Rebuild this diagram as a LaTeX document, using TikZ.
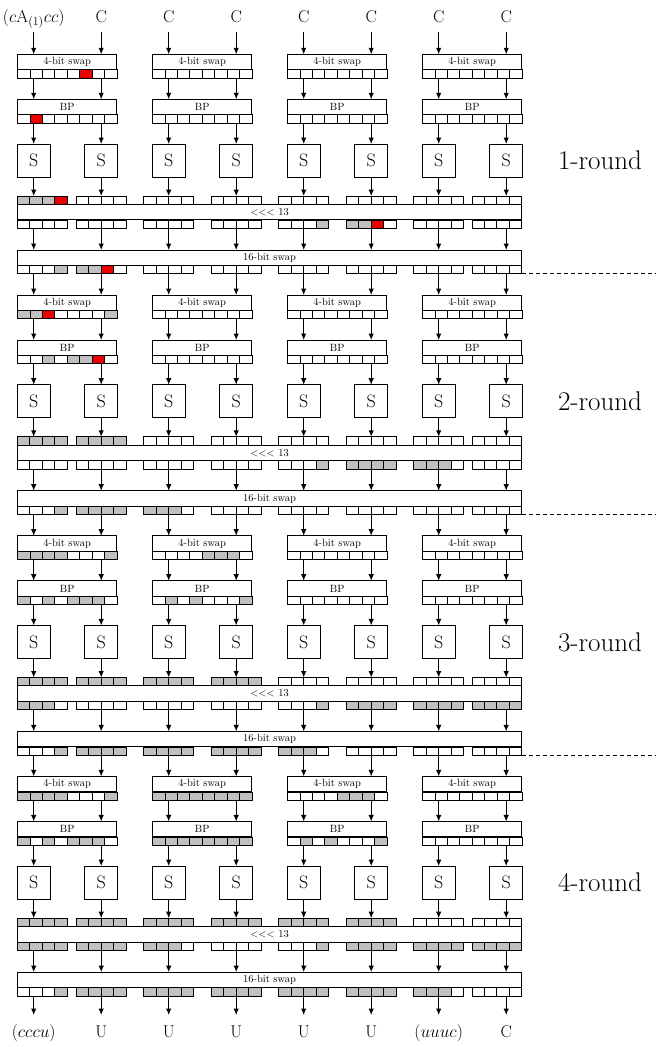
\documentclass[tikz,border=0pt]{standalone}
\usetikzlibrary{arrows.meta,calc}
\definecolor{cw}{RGB}{255,255,255}
\definecolor{cg}{RGB}{192,192,192}
\definecolor{cr}{RGB}{237,0,0}
\newcommand{\groupcells}[2]{%
  \foreach \gd [count=\g from 0] in {#2} {
    \foreach \f [count=\i from 0] in \gd
      \draw[cell,fill=c\f] ($(#1-\g.north west)+(\i*12.425,0)$) rectangle ++(12.425,8.3);
  }}
\newcommand{\colcells}[2]{%
  \foreach \cd [count=\c from 0] in {#2} {
    \pgfmathsetmacro{\dx}{max(0,min(454.7,67.5*\c-8.45))}
    \foreach \f [count=\i from 0] in \cd
      \draw[cell,fill=c\f] ($(#1.north west)+(\dx+\i*12.425,0)$) rectangle ++(12.425,8.3);
  }}
\begin{document}
\begin{tikzpicture}[x=1pt,y=-1pt,
  box/.style={draw,line width=1pt,minimum height=15.5pt,inner sep=0pt,outer sep=0pt,font=\fontsize{10.5}{12}\selectfont},
  sbox/.style={draw,line width=1pt,minimum size=33pt,inner sep=0pt,outer sep=0pt,font=\fontsize{18}{21}\selectfont},
  strip/.style={minimum height=8.3pt,inner sep=0pt,outer sep=0pt},
  cell/.style={draw,line width=0.75pt},
  arr/.style={line width=1pt,-{Latex[length=6.5pt,width=5.5pt]}},
  lbl/.style={inner xsep=1pt,inner ysep=6pt,text height=12pt,text depth=4pt,font=\fontsize{17}{20}\selectfont},
  olbl/.style={lbl,anchor=north,inner ysep=10pt},
  rnd/.style={font=\fontsize{27}{32}\selectfont}]
\useasboundingbox (0,0) rectangle (656,1047);
\coordinate (rim) at (656,0);
\foreach \r in {0,...,3} {
  \pgfmathsetmacro{\yo}{54.3+240.7*\r}
  \foreach \g in {0,...,3} {
    \node[box,minimum width=99.4pt] (sw-\r-\g) at (67.2+135*\g,\yo+7.75) {4-bit swap};
    \node[strip,minimum width=99.4pt,anchor=north] (swc-\r-\g) at (sw-\r-\g.south) {};
    \node[box,minimum width=99.4pt] (bp-\r-\g) at (67.2+135*\g,\yo+52.75) {BP};
    \node[strip,minimum width=99.4pt,anchor=north] (bpc-\r-\g) at (bp-\r-\g.south) {};
  }
  \foreach \c in {0,...,7}
    \node[sbox] (s-\r-\c) at (33.7+67.5*\c,\yo+106.2) {S};
  \node[box,minimum width=504.4pt] (rot-\r) at (269.5,\yo+157.85) {\textless\kern0pt\textless\kern0pt\textless\ 13};
  \node[strip,minimum width=504.4pt,anchor=south] (rin-\r) at (rot-\r.north) {};
  \node[strip,minimum width=504.4pt,anchor=north] (rout-\r) at (rot-\r.south) {};
  \node[box,minimum width=504.4pt] (hs-\r) at (269.5,\yo+203.45) {16-bit swap};
  \node[strip,minimum width=504.4pt,anchor=north] (hsc-\r) at (hs-\r.south) {};
  \pgfmathtruncatemacro{\rn}{\r+1}
  \node[rnd] (lb-\r) at (600,\yo+106.2) {\rn-round};
}
\foreach \r in {0,...,3}
  \foreach \c/\g in {0/0,1/0,2/1,3/1,4/2,5/2,6/3,7/3} {
    \draw[arr] (swc-\r-\g.south -| s-\r-\c) -- (bp-\r-\g.north -| s-\r-\c);
    \draw[arr] (bpc-\r-\g.south -| s-\r-\c) -- (s-\r-\c);
    \draw[arr] (s-\r-\c) -- (rin-\r.north -| s-\r-\c);
    \draw[arr] (rout-\r.south -| s-\r-\c) -- (hs-\r.north -| s-\r-\c);
  }
\foreach \r/\n in {0/1,1/2,2/3}
  \foreach \c/\g in {0/0,1/0,2/1,3/1,4/2,5/2,6/3,7/3}
    \draw[arr] (hsc-\r.south -| s-\r-\c) -- (sw-\n-\g.north -| s-\r-\c);
\foreach \r in {0,1,2}
  \draw[line width=1pt,dash pattern=on 4pt off 3pt] (hsc-\r.south east) -- (hsc-\r.south east -| rim);
\node[lbl] (in-0) at (33.7,18) {$(c\mathrm{A}_{(1)}cc)$};
\foreach \c in {1,...,7}
  \node[lbl] (in-\c) at (33.7+67.5*\c,18) {C};
\foreach \c/\g in {0/0,1/0,2/1,3/1,4/2,5/2,6/3,7/3}
  \draw[arr] (in-\c) -- (sw-0-\g.north -| in-\c);
\node[olbl] (out-0) at (33.7,1015) {$(cccu)$};
\node[olbl] (out-1) at (101.2,1015) {U};
\node[olbl] (out-2) at (168.7,1015) {U};
\node[olbl] (out-3) at (236.2,1015) {U};
\node[olbl] (out-4) at (303.7,1015) {U};
\node[olbl] (out-5) at (371.2,1015) {U};
\node[olbl] (out-6) at (438.7,1015) {$(uuuc)$};
\node[olbl] (out-7) at (506.2,1015) {C};
\foreach \c in {0,...,7}
  \draw[arr] (hsc-3.south -| out-\c) -- (out-\c);
% round 1
\groupcells{swc-0}{{w,w,w,w,w,r,w,w},{w,w,w,w,w,w,w,w},{w,w,w,w,w,w,w,w},{w,w,w,w,w,w,w,w}}
\groupcells{bpc-0}{{w,r,w,w,w,w,w,w},{w,w,w,w,w,w,w,w},{w,w,w,w,w,w,w,w},{w,w,w,w,w,w,w,w}}
\colcells{rin-0}{{g,g,g,r},{w,w,w,w},{w,w,w,w},{w,w,w,w},{w,w,w,w},{w,w,w,w},{w,w,w,w},{w,w,w,w}}
\colcells{rout-0}{{w,w,w,w},{w,w,w,w},{w,w,w,w},{w,w,w,w},{w,w,w,g},{g,g,r,w},{w,w,w,w},{w,w,w,w}}
\colcells{hsc-0}{{w,w,w,g},{g,g,r,w},{w,w,w,w},{w,w,w,w},{w,w,w,w},{w,w,w,w},{w,w,w,w},{w,w,w,w}}
% round 2
\groupcells{swc-1}{{g,g,r,w,w,w,w,g},{w,w,w,w,w,w,w,w},{w,w,w,w,w,w,w,w},{w,w,w,w,w,w,w,w}}
\groupcells{bpc-1}{{w,w,g,w,g,g,r,w},{w,w,w,w,w,w,w,w},{w,w,w,w,w,w,w,w},{w,w,w,w,w,w,w,w}}
\colcells{rin-1}{{g,g,g,g},{g,g,g,g},{w,w,w,w},{w,w,w,w},{w,w,w,w},{w,w,w,w},{w,w,w,w},{w,w,w,w}}
\colcells{rout-1}{{w,w,w,w},{w,w,w,w},{w,w,w,w},{w,w,w,w},{w,w,w,g},{g,g,g,g},{g,g,g,w},{w,w,w,w}}
\colcells{hsc-1}{{w,w,w,g},{g,g,g,g},{g,g,g,w},{w,w,w,w},{w,w,w,w},{w,w,w,w},{w,w,w,w},{w,w,w,w}}
% round 3
\groupcells{swc-2}{{g,g,g,g,w,w,w,g},{w,w,w,w,g,g,g,w},{w,w,w,w,w,w,w,w},{w,w,w,w,w,w,w,w}}
\groupcells{bpc-2}{{g,w,g,w,g,g,g,w},{w,g,w,g,w,w,w,g},{w,w,w,w,w,w,w,w},{w,w,w,w,w,w,w,w}}
\colcells{rin-2}{{g,g,g,g},{g,g,g,g},{g,g,g,g},{g,g,g,g},{w,w,w,w},{w,w,w,w},{w,w,w,w},{w,w,w,w}}
\colcells{rout-2}{{g,g,g,w},{w,w,w,w},{w,w,w,w},{w,w,w,w},{w,w,w,g},{g,g,g,g},{g,g,g,g},{g,g,g,g}}
\colcells{hsc-2}{{w,w,w,g},{g,g,g,g},{g,g,g,g},{g,g,g,g},{g,g,g,w},{w,w,w,w},{w,w,w,w},{w,w,w,w}}
% round 4
\groupcells{swc-3}{{g,g,g,g,w,w,w,g},{g,g,g,g,g,g,g,g},{w,w,w,w,g,g,g,w},{w,w,w,w,w,w,w,w}}
\groupcells{bpc-3}{{g,w,g,w,g,g,g,w},{g,g,g,g,g,g,g,g},{w,g,w,g,w,w,w,g},{w,w,w,w,w,w,w,w}}
\colcells{rin-3}{{g,g,g,g},{g,g,g,g},{g,g,g,g},{g,g,g,g},{g,g,g,g},{g,g,g,g},{w,w,w,w},{w,w,w,w}}
\colcells{rout-3}{{g,g,g,g},{g,g,g,g},{g,g,g,w},{w,w,w,w},{w,w,w,g},{g,g,g,g},{g,g,g,g},{g,g,g,g}}
\colcells{hsc-3}{{w,w,w,g},{g,g,g,g},{g,g,g,g},{g,g,g,g},{g,g,g,g},{g,g,g,g},{g,g,g,w},{w,w,w,w}}
\end{tikzpicture}
\end{document}
